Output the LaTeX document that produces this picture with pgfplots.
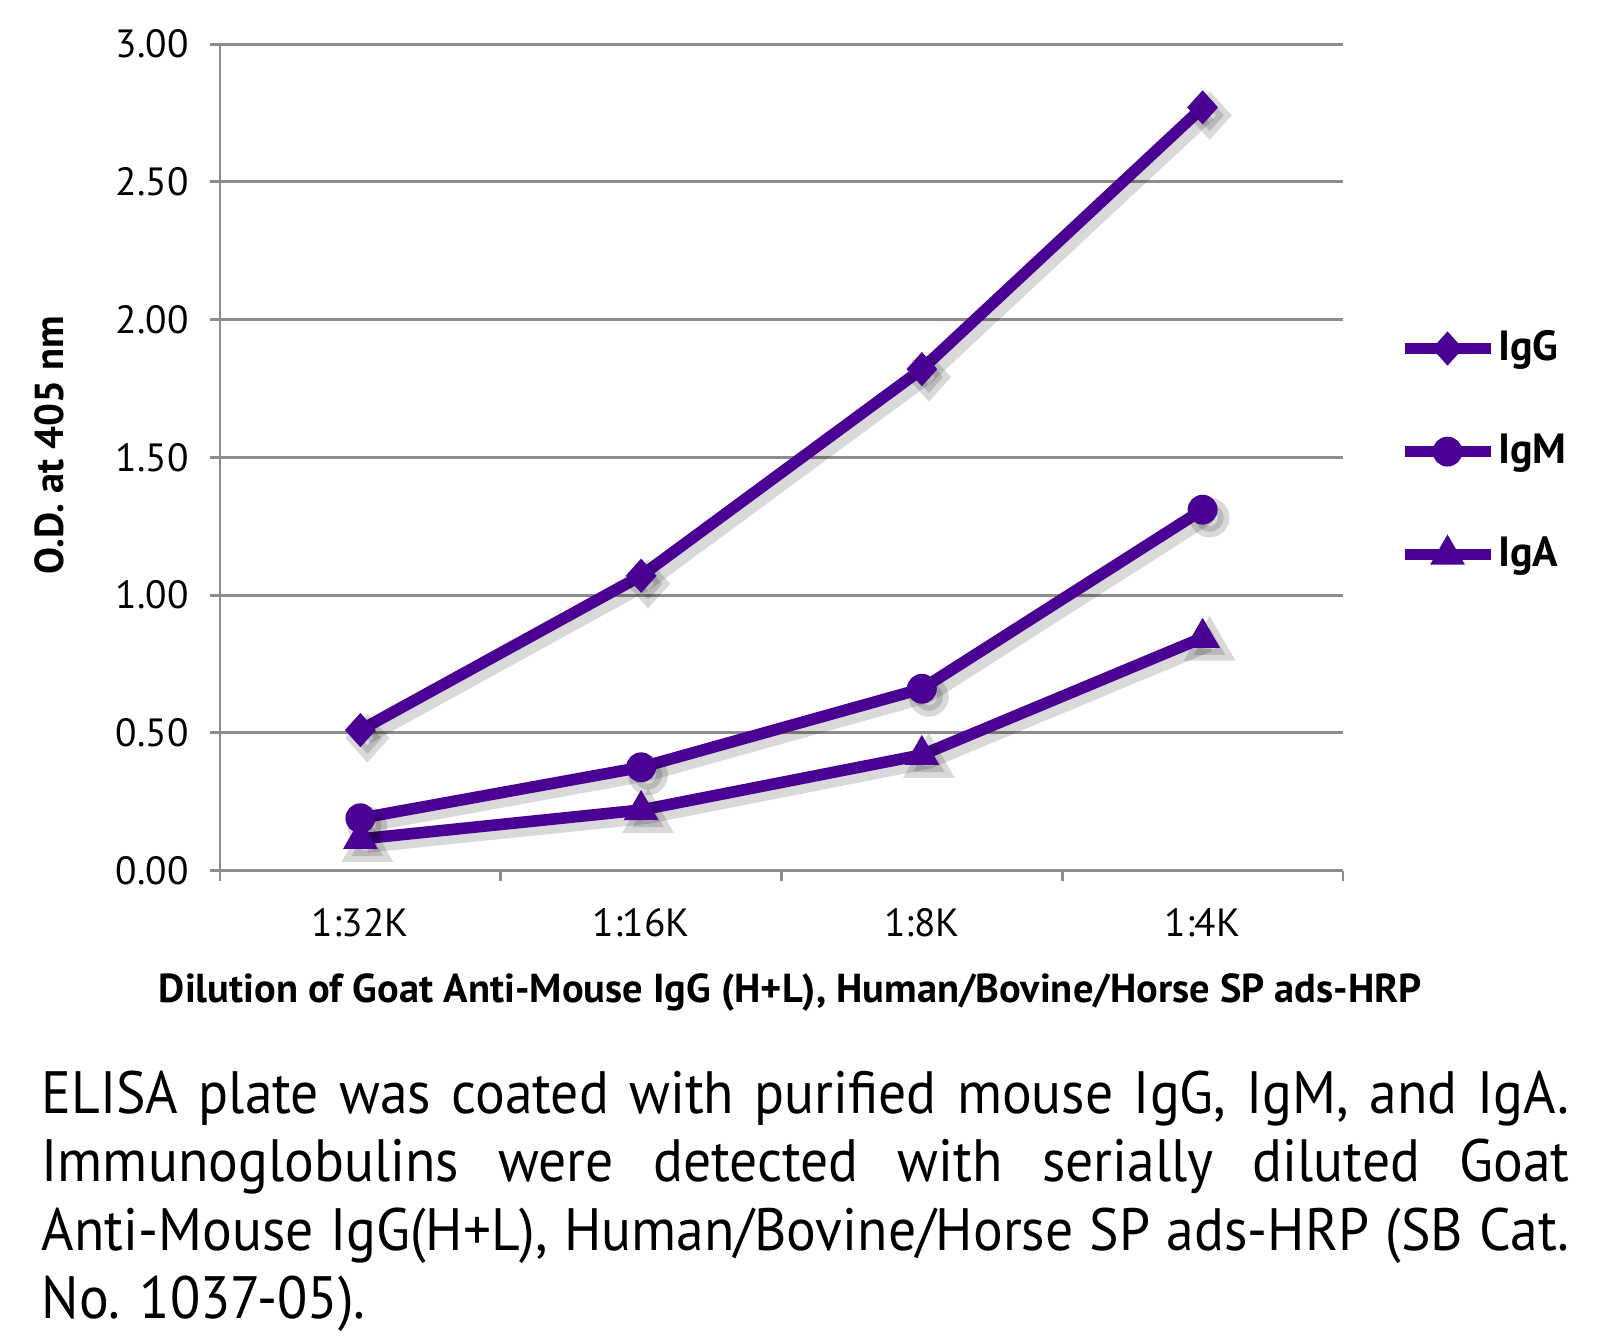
\documentclass[border=0pt]{standalone}
\usepackage{fontspec}
\setmainfont{PT Sans}
\newfontfamily\capfont[FakeStretch=0.93]{PT Sans}
\usepackage{pgfplots}
\pgfplotsset{compat=1.18}

\definecolor{igpurple}{RGB}{75,0,148}
\definecolor{axisgray}{RGB}{140,140,140}

\pgfplotstableread{
x  igg   igm   iga
1  0.51  0.19  0.115
2  1.07  0.375 0.22
3  1.82  0.66  0.42
4  2.77  1.31  0.845
}\elisa

\begin{document}
\begin{tikzpicture}
\path[use as bounding box] (0,0) rectangle (16.08cm,-13.36cm);
\begin{axis}[
    at={(2.20cm,-8.706cm)}, anchor=south west,
    scale only axis,
    width=11.23cm, height=8.266cm,
    xmin=0.5, xmax=4.5,
    ymin=0, ymax=3,
    axis lines=left,
    axis line style={axisgray, line width=0.85pt, -},
    xtick={1,2,3,4},
    xticklabels={1:32K,1:16K,1:8K,1:4K},
    major x tick style={draw=none},
    minor xtick={0.5,1.5,2.5,3.5,4.5},
    minor x tick style={axisgray, line width=0.85pt},
    minor tick length=1mm,
    ytick={0,0.5,...,3},
    y tick style={axisgray, line width=0.85pt},
    major tick length=1mm,
    tick align=outside,
    ymajorgrids,
    grid style={axisgray, line width=0.85pt},
    /pgf/number format/assume math mode=true,
    yticklabel={\pgfmathprintnumber[fixed,fixed zerofill,precision=2]{\tick}},
    ticklabel style={font=\fontsize{11.2}{13}\selectfont, text=black},
    xticklabel style={yshift=-1.5mm},
    yticklabel style={xshift=-0.9mm},
    xlabel={Dilution of Goat Anti-Mouse IgG (H+L), Human/Bovine/Horse SP ads-HRP},
    ylabel={O.D. at 405 nm},
    xlabel style={font=\bfseries\fontsize{11.5}{13}\selectfont, at={(axis description cs:0.508,-0.148)}, anchor=center},
    ylabel style={font=\bfseries\fontsize{11.5}{13}\selectfont, at={(axis description cs:-0.152,0.515)}, anchor=center},
    legend style={draw=none, fill=none, at={(axis description cs:1.049,0.656)}, anchor=north west,
        font=\bfseries\fontsize{12}{14}\selectfont, row sep=6.45mm, inner sep=0pt,
        nodes={inner sep=0.5pt, text=black}},
    legend cell align=left,
    legend image code/.code={
        \draw[#1, mark repeat=2, mark phase=2] plot coordinates {(0cm,0cm) (0.43cm,0cm) (0.86cm,0cm)};
    },
    clip=false,
]
% soft shadows
\addplot[black, opacity=0.15, line width=3.3pt, xshift=0.7mm, yshift=-0.8mm, forget plot,
    mark=diamond*, mark size=4.5pt, mark options={xscale=1.2}] table[y=igg] {\elisa};
\addplot[black, opacity=0.15, line width=3.3pt, xshift=0.7mm, yshift=-0.8mm, forget plot,
    mark=*, mark size=4pt] table[y=igm] {\elisa};
\addplot[black, opacity=0.15, line width=3.3pt, xshift=0.7mm, yshift=-0.8mm, forget plot,
    mark=triangle*, mark size=5.2pt] table[y=iga] {\elisa};

\addplot[igpurple, line width=3.3pt, mark=diamond*, mark size=4.5pt,
    mark options={solid, line width=0.5pt, xscale=1.2}] table[y=igg] {\elisa};
\addlegendentry{IgG}
\addplot[igpurple, line width=3.3pt, mark=*, mark size=4pt,
    mark options={solid, line width=0.5pt}] table[y=igm] {\elisa};
\addlegendentry{IgM}
\addplot[igpurple, line width=3.3pt, mark=triangle*, mark size=5.2pt,
    mark options={solid, line width=0.5pt}] table[y=iga] {\elisa};
\addlegendentry{IgA}
\end{axis}
\node[anchor=north west, inner sep=0pt, text width=15.28cm, align=justify,
    font=\capfont\fontsize{17}{19.5}\selectfont] at (0.41cm,-10.70cm)
    {ELISA plate was coated with purified mouse IgG, IgM, and IgA.\linebreak
     Immunoglobulins were detected with serially diluted Goat\linebreak
     Anti-Mouse IgG(H+L), Human/Bovine/Horse SP ads-HRP (SB Cat.\linebreak
     No. 1037-05).};
\end{tikzpicture}
\end{document}
